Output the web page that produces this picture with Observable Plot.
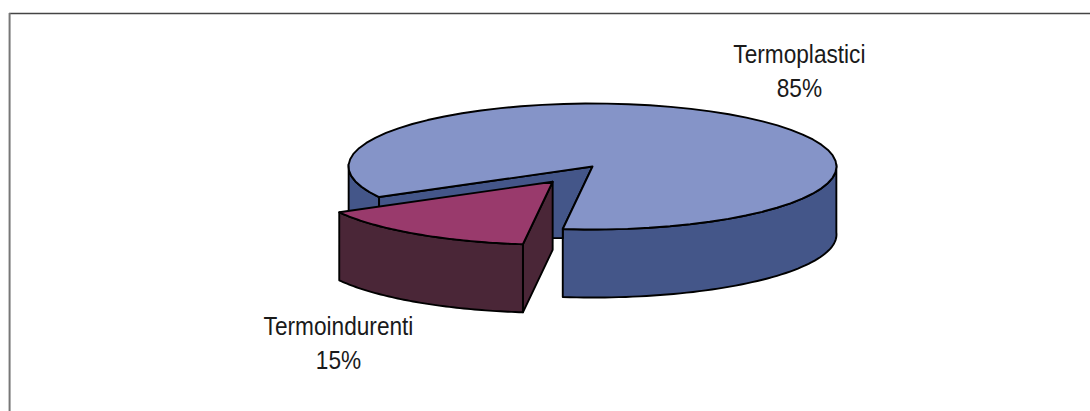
<!DOCTYPE html>
<html><head><meta charset="utf-8">
<script src="https://cdn.jsdelivr.net/npm/d3@7"></script>
<script src="https://cdn.jsdelivr.net/npm/@observablehq/plot@0.6"></script>
<style>html,body{margin:0;padding:0;background:#fff}svg{display:block}</style>
</head><body><div id="chart"></div>
<script>
const categories = ["Termoplastici", "Termoindurenti"];
const shares = [85, 15];
const percentLabels = ["85%", "15%"];
const labelX = [0.848, -1.041];
const labelY = [-1.54, 2.777];

const topColors = ["#8594c8", "#993a6c"];
const wallColors = ["#445689", "#4a2637"];

// Pie geometry in pie units (radius = 1); the x and y scales flatten it.
const depth = 1.08, explode = 0.292, cutWall = 0.145;
const startDeg = 97;
const rad = d => d * Math.PI / 180;
const sweep15 = shares[1] / d3.sum(shares) * 360;
const a0 = startDeg, a1 = startDeg + sweep15;      // small slice
const arc = (from, to, dz = 0, ox = 0, oy = 0) =>
  d3.range(0, 61).map(i => {
    const t = rad(from + (to - from) * i / 60);
    return [ox + Math.cos(t), oy + Math.sin(t) + dz];
  });
const polys = [];
const add = (id, fill, pts) => pts.forEach(([x, y]) => polys.push({id, fill, x, y}));

// main slice
const rightWall = [...arc(a0, -2), ...arc(-2, a0, depth)];
const leftWall = [...arc(a1, 182), ...arc(182, a1, depth)];
const inner = (() => {
  const [e] = arc(a0, a0), [l] = arc(a1, a1);
  return [[0, 0], e, [e[0], e[1] + cutWall], [l[0], e[1] + cutWall], l];
})();
add("wallR", wallColors[0], rightWall);
add("wallL", wallColors[0], leftWall);
add("inner", wallColors[0], inner);
add("top", topColors[0], [[0, 0], ...arc(a1, a0 + 360)]);

// exploded slice
const mid = rad((a0 + a1) / 2), ox = explode * Math.cos(mid), oy = explode * Math.sin(mid);
const pA = [ox, oy], pE = [ox + Math.cos(rad(a0)), oy + Math.sin(rad(a0))];
add("sRight", wallColors[1], [pA, pE, [pE[0], pE[1] + depth], [pA[0], pA[1] + depth]]);
add("sOuter", wallColors[1], [...arc(a0, a1, 0, ox, oy), ...arc(a1, a0, depth, ox, oy)]);
add("sTop", topColors[1], [pA, ...arc(a0, a1, 0, ox, oy)]);

const ids = [...new Set(polys.map(d => d.id))];
const closed = ids.map(id => polys.filter(d => d.id === id));

const labels = categories.map((c, i) => ({text: `${c}\n${percentLabels[i]}`, x: labelX[i], y: labelY[i]}));

const frameLeft = -2.389, frameRight = 2.05, frameTop = -2.43, frameBottom = 3.95;

const chart = Plot.plot({
  width: 1090, height: 411, margin: 0,
  style: {background: "#fff"},
  x: {type: "linear", domain: [-1, 1], range: [348, 836], axis: null},
  y: {type: "linear", domain: [-1, 1], range: [103, 229], axis: null},
  marks: [
    Plot.ruleY([frameTop], {x1: frameLeft, x2: frameRight, stroke: "#444", strokeWidth: 1.5, clip: false}),
    Plot.ruleX([frameLeft], {y1: frameTop, y2: frameBottom, stroke: "#777", strokeWidth: 2, clip: false}),
    ...closed.map(pts => Plot.line([...pts, pts[0]], {
      x: "x", y: "y", fill: pts[0].fill, stroke: "#000", strokeWidth: 1.9,
      strokeLinejoin: "round", curve: "linear"
    })),
    Plot.text(labels, {
      x: "x", y: "y", text: "text", lineHeight: 1.28,
      fontFamily: "'Liberation Sans',Arial,sans-serif",
      fontSize: 26.5, fill: "#1a1a1a"
    })
  ]
});
document.getElementById("chart").append(chart);
// The reference labels are set in a condensed face: squeeze them horizontally.
d3.select(chart).selectAll("text").each(function () {
  const t = this.getAttribute("transform") || "";
  this.setAttribute("transform", t + " scale(0.855,1)");
});
</script>
</body></html>
